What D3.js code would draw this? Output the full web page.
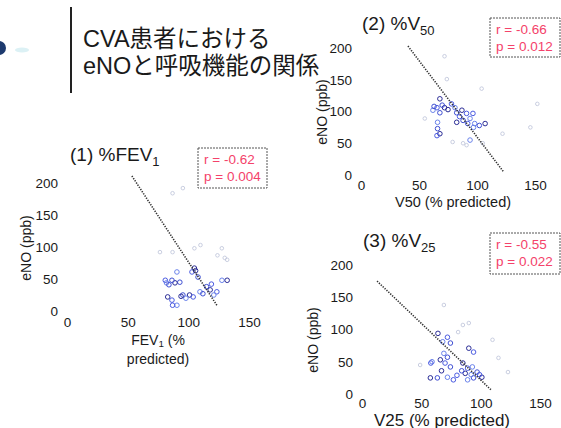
<!DOCTYPE html>
<html>
<head>
<meta charset="utf-8">
<script src="https://cdn.jsdelivr.net/npm/d3@7"></script>
<style>
  html, body { margin: 0; padding: 0; background: #fff; }
  svg { display: block; }
</style>
</head>
<body>
<svg id="chart" width="561" height="428"></svg>
<script>
// ---- data ----------------------------------------------------------------
const xTicks = [0, 50, 100, 150];
const yTicks = [0, 50, 100, 150, 200];

// (1) %FEV1 vs eNO
const fevPoints = [
  [105, 67], [103, 61], [90.6, 61], [93, 45], [89, 44], [81, 48], [82, 44],
  [86.5, 48], [83, 22], [86.5, 17], [90.6, 9], [95.5, 25], [101, 25],
  [104, 22], [109.6, 30], [115, 38], [118, 33], [123.5, 30], [127.7, 48],
  [108, 53], [132, 48], [87, 9], [98, 20], [112, 27], [106, 63], [119, 42],
  [121, 25], [84, 41], [94, 23]
];
const fevFaint = [
  [105, 98], [124, 87], [130, 83], [76.6, 92], [87, 92], [87, 184],
  [95.5, 192], [110, 103], [127.6, 98], [132, 80]
];
const fevFit = [[53.5, 211], [123.5, 9]];
const fevStats = ["r = -0.62", "p = 0.004"];

// (2) %V50 vs eNO
const v50Points = [
  [68, 120], [65.5, 106], [62, 102], [68, 98], [72, 106], [78, 112],
  [81, 106], [82.5, 98], [87, 102], [91, 97], [94, 89], [88, 86],
  [82.5, 83], [92, 81], [98, 81], [102, 78], [107, 81], [96.5, 97],
  [66, 83], [66, 73], [68, 65], [65.5, 62], [94, 55], [70, 110],
  [75, 103], [85, 92], [97, 75], [63, 108]
];
const v50Faint = [
  [79, 52], [88, 50], [105, 50], [122, 65], [55, 89], [72, 187],
  [74, 151], [104, 136], [152, 112], [146, 75], [91, 47]
];
const v50Fit = [[40.5, 203], [123, 4.7]];
const v50Stats = ["r = -0.66", "p = 0.012"];

// (3) %V25 vs eNO
const v25Points = [
  [64, 94], [72, 88], [68, 81], [74.5, 79], [90, 71], [94, 65], [69, 63],
  [72, 57], [66, 53], [70, 48], [59, 50], [74.5, 42], [85, 48], [89, 40],
  [93, 42], [97, 34], [87, 32], [80, 29], [72, 26], [63.5, 25], [57.6, 25],
  [77, 22], [89, 22], [94, 25], [101, 26], [58, 48], [92, 30], [84, 36],
  [67, 36], [99, 30]
];
const v25Faint = [
  [85, 107], [81, 96], [49, 45], [123, 34], [110, 84], [90, 110],
  [69, 138], [115, 56]
];
const v25Fit = [[12.7, 175], [109, 6]];
const v25Stats = ["r = -0.55", "p = 0.022"];

const headline = ["CVA患者における", "eNOと呼吸機能の関係"];

// ---- drawing -------------------------------------------------------------
const svg = d3.select("#chart");
const font = "'Liberation Sans', Arial, sans-serif";

const defs = svg.append("defs");
defs.append("filter").attr("id", "soft")
  .append("feGaussianBlur").attr("stdDeviation", 0.55);

// bullet at the left edge
svg.append("circle").attr("cx", -1).attr("cy", 48).attr("r", 7)
  .attr("fill", "#1d3a6e");
svg.append("ellipse").attr("cx", 22).attr("cy", 50).attr("rx", 7).attr("ry", 2.5)
  .attr("fill", "#dcf1f5");

// headline block: rule + two-line heading
svg.append("rect").attr("x", 70).attr("y", 7).attr("width", 2).attr("height", 86)
  .attr("fill", "#222");
svg.append("text")
  .attr("y", 47)
  .style("font-family", "'Liberation Sans', 'Noto Sans CJK JP', sans-serif")
  .attr("font-size", 23.5).attr("fill", "#1a1a1a")
  .selectAll("tspan").data(headline).join("tspan")
  .attr("x", 83).attr("dy", (d, i) => i === 0 ? 0 : 26.5)
  .text(d => d);

function panel(cfg) {
  const x = d3.scaleLinear().domain([0, 150]).range([cfg.x0, cfg.x1]);
  const y = d3.scaleLinear().domain([0, 200]).range([cfg.y0, cfg.y1]);
  const g = svg.append("g");

  // tick labels only, no axis lines
  const ya = g.append("g").attr("transform", `translate(${cfg.x0},0)`)
    .call(d3.axisLeft(y).tickValues(yTicks).tickSize(0).tickPadding(9));
  const xa = g.append("g").attr("transform", `translate(0,${cfg.y0})`)
    .call(d3.axisBottom(x).tickValues(xTicks).tickSize(0).tickPadding(cfg.xPad));
  [ya, xa].forEach(a => {
    a.select(".domain").remove();
    a.selectAll("text").style("font-family", font).attr("font-size", 13.5)
      .attr("fill", "#1a1a1a");
  });

  // scatter
  const pts = g.append("g").attr("filter", "url(#soft)");
  pts.selectAll("circle.f").data(cfg.faint).join("circle").attr("class", "f")
    .attr("cx", d => x(d[0])).attr("cy", d => y(d[1])).attr("r", 1.8)
    .attr("fill", "none").attr("stroke", "#c3c8dd").attr("stroke-width", 0.9);
  pts.selectAll("circle.p").data(cfg.points).join("circle").attr("class", "p")
    .attr("cx", d => x(d[0])).attr("cy", d => y(d[1])).attr("r", 2.3)
    .attr("fill", "none")
    .attr("stroke", (d, i) => ["#2a2c95", "#4a5ae0", "#6a82ea", "#3f4fd2"][i % 4])
    .attr("stroke-width", 1);

  // regression line
  g.append("path")
    .attr("d", d3.line().x(d => x(d[0])).y(d => y(d[1]))(cfg.fit))
    .attr("stroke", "#333").attr("stroke-width", 1.6)
    .attr("stroke-dasharray", "1.3,1.3").attr("fill", "none");

  // panel title with subscript
  const t = g.append("text").attr("x", cfg.tx).attr("y", cfg.ty)
    .style("font-family", font).attr("font-size", 19).attr("fill", "#1a1a1a");
  t.append("tspan").text(cfg.title);
  t.append("tspan").attr("dy", 5).attr("font-size", 13).text(cfg.sub);

  // y label
  g.append("text")
    .attr("transform", `translate(${cfg.ylx},${cfg.yly}) rotate(-90)`)
    .attr("text-anchor", "middle").attr("dy", "0.35em")
    .style("font-family", font).attr("font-size", 14).attr("fill", "#1a1a1a")
    .text("eNO (ppb)");

  // x label lines
  cfg.xlabel.forEach((line, i) => {
    const tx = g.append("text").attr("x", cfg.xlx).attr("y", cfg.xly + i * 19)
      .attr("text-anchor", "middle")
      .style("font-family", font).attr("font-size", cfg.labelSize).attr("fill", "#1a1a1a");
    line.forEach(seg => {
      const s = tx.append("tspan").text(seg.t);
      if (seg.sub) s.attr("font-size", cfg.labelSize * 0.7).attr("dy", 2);
      if (seg.after) s.attr("dy", -2);
    });
  });

  // statistics box
  g.append("rect").attr("x", cfg.bx).attr("y", cfg.by).attr("width", cfg.bw).attr("height", cfg.bh)
    .attr("fill", "#fff").attr("stroke", "#555").attr("stroke-width", 1)
    .attr("stroke-dasharray", "2,1");
  g.append("g").selectAll("text").data(cfg.stats).join("text")
    .attr("x", cfg.bx + 6).attr("y", (d, i) => cfg.by + 16 + i * 17)
    .style("font-family", font).attr("font-size", 13.5).attr("fill", "#f4426a")
    .text(d => d);
}

panel({
  x0: 67, x1: 249, y0: 311, y1: 183, xPad: 6,
  points: fevPoints, faint: fevFaint, fit: fevFit, stats: fevStats,
  title: "(1) %FEV", sub: "1", tx: 70, ty: 161,
  ylx: 26, yly: 248, labelSize: 14,
  xlabel: [[{t: "FEV"}, {t: "1", sub: true}, {t: " (%", after: true}], [{t: "predicted)"}]],
  xlx: 158, xly: 345,
  bx: 198, by: 148, bw: 69, bh: 40
});

panel({
  x0: 361, x1: 535, y0: 175, y1: 48, xPad: 5,
  points: v50Points, faint: v50Faint, fit: v50Fit, stats: v50Stats,
  title: "(2) %V", sub: "50", tx: 362, ty: 30,
  ylx: 322, yly: 112, labelSize: 14.5,
  xlabel: [[{t: "V50 (% predicted)"}]],
  xlx: 453, xly: 206.5,
  bx: 490, by: 18, bw: 70, bh: 39
});

panel({
  x0: 362, x1: 540, y0: 394, y1: 265, xPad: 4,
  points: v25Points, faint: v25Faint, fit: v25Fit, stats: v25Stats,
  title: "(3) %V", sub: "25", tx: 363, ty: 247,
  ylx: 313, yly: 340, labelSize: 17,
  xlabel: [[{t: "V25 (% predicted)"}]],
  xlx: 442, xly: 425.5,
  bx: 490, by: 233, bw: 70, bh: 41
});
</script>
</body>
</html>
